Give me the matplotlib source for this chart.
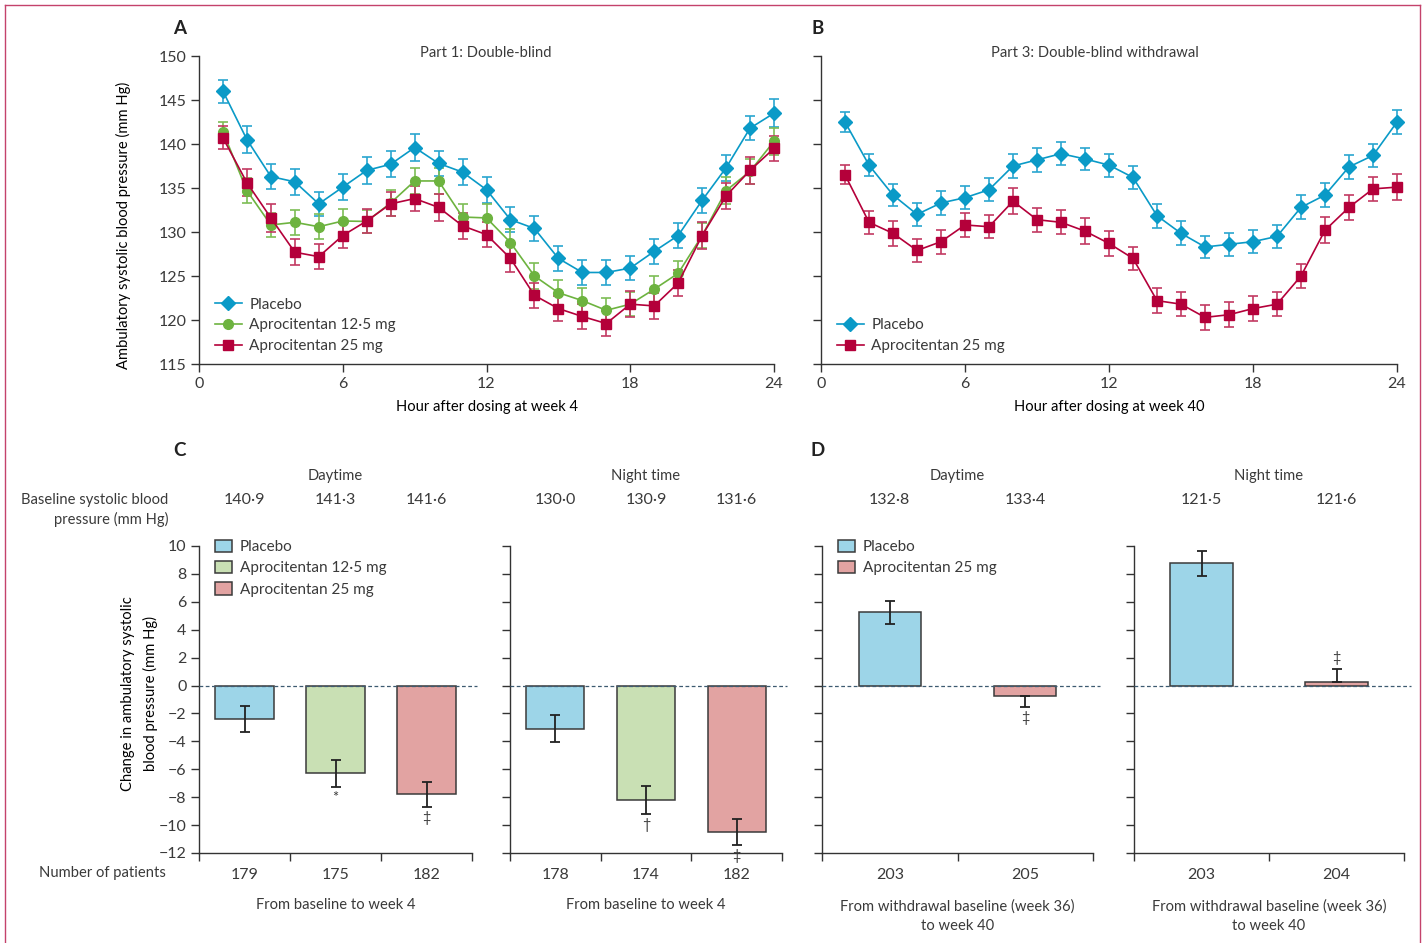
import matplotlib
matplotlib.use('Agg')
import matplotlib.pyplot as plt
import matplotlib.transforms as mtransforms
from matplotlib.patches import Patch
from matplotlib.lines import Line2D

plt.rcParams['font.family'] = ['Lato', 'DejaVu Sans']
TXT = '#3a3a3a'
AX = '#333333'
plt.rcParams['text.color'] = TXT
plt.rcParams['axes.edgecolor'] = AX
plt.rcParams['xtick.color'] = AX
plt.rcParams['ytick.color'] = AX
plt.rcParams['xtick.labelcolor'] = TXT
plt.rcParams['ytick.labelcolor'] = TXT
plt.rcParams['font.size'] = 11.5

FS_WORD = 10.6
FS_NUM = 11.5
FS_LEG = 11.0

# ---------------- data ----------------
hours = list(range(1, 25))

a_placebo = [146.0, 140.5, 136.3, 135.7, 133.2, 135.1, 137.0, 137.7, 139.6, 137.8, 136.8, 134.8,
             131.4, 130.4, 127.0, 125.4, 125.4, 125.9, 127.8, 129.6, 133.6, 137.3, 141.8, 143.5]
a_placebo_se = [1.3, 1.5, 1.45, 1.5, 1.4, 1.5, 1.5, 1.5, 1.5, 1.45, 1.5, 1.5,
                1.45, 1.45, 1.45, 1.45, 1.45, 1.4, 1.45, 1.45, 1.45, 1.45, 1.4, 1.6]
a_apro125 = [141.4, 134.7, 130.8, 131.1, 130.6, 131.25, 131.2, 133.3, 135.8, 135.8, 131.7, 131.6,
             128.8, 125.0, 123.1, 122.2, 121.1, 121.8, 123.5, 125.3, 129.6, 134.7, 136.9, 140.3]
a_apro125_se = [1.1, 1.4, 1.35, 1.45, 1.4, 1.4, 1.35, 1.45, 1.5, 1.5, 1.5, 1.55,
                1.5, 1.5, 1.45, 1.45, 1.4, 1.4, 1.45, 1.4, 1.45, 1.5, 1.45, 1.5]
a_apro25 = [140.7, 135.6, 131.6, 127.7, 127.2, 129.6, 131.25, 133.2, 133.8, 132.8, 130.7, 129.7,
            127.0, 122.8, 121.3, 120.4, 119.6, 121.8, 121.6, 124.2, 129.6, 134.1, 137.0, 139.5]
a_apro25_se = [1.3, 1.55, 1.6, 1.5, 1.45, 1.45, 1.4, 1.4, 1.45, 1.5, 1.45, 1.45,
               1.5, 1.45, 1.45, 1.45, 1.45, 1.45, 1.45, 1.5, 1.5, 1.5, 1.5, 1.45]

b_placebo = [142.5, 137.6, 134.2, 132.0, 133.3, 133.9, 134.8, 137.5, 138.2, 138.9, 138.3, 137.6,
             136.2, 131.85, 129.85, 128.3, 128.6, 128.9, 129.5, 132.8, 134.2, 137.4, 138.7, 142.5]
b_placebo_se = [1.15, 1.25, 1.3, 1.3, 1.35, 1.3, 1.3, 1.35, 1.35, 1.3, 1.3, 1.3,
                1.3, 1.35, 1.35, 1.3, 1.3, 1.3, 1.3, 1.35, 1.35, 1.35, 1.3, 1.35]
b_apro25 = [136.5, 131.1, 129.85, 127.9, 128.9, 130.8, 130.6, 133.5, 131.4, 131.1, 130.1, 128.7,
            127.0, 122.2, 121.8, 120.3, 120.6, 121.3, 121.8, 125.0, 130.2, 132.8, 134.9, 135.1]
b_apro25_se = [1.1, 1.3, 1.4, 1.35, 1.35, 1.35, 1.3, 1.45, 1.35, 1.35, 1.45, 1.45,
               1.35, 1.45, 1.35, 1.4, 1.4, 1.4, 1.4, 1.4, 1.45, 1.4, 1.4, 1.45]

c_groups = ['Placebo', 'Aprocitentan 12·5 mg', 'Aprocitentan 25 mg']
c_day_change = [-2.4, -6.3, -7.8]
c_day_se = [0.93, 0.94, 0.9]
c_day_marks = ['', '*', '‡']
c_day_n = [179, 175, 182]
c_day_base = [140.9, 141.3, 141.6]
c_night_change = [-3.1, -8.2, -10.5]
c_night_se = [0.98, 0.97, 0.95]
c_night_marks = ['', '†', '‡']
c_night_n = [178, 174, 182]
c_night_base = [130.0, 130.9, 131.6]

d_groups = ['Placebo', 'Aprocitentan 25 mg']
d_day_change = [5.25, -0.74]
d_day_se_low = [0.83, 0.8]
d_day_se_high = [0.83, 0.0]
d_day_marks = ['', '‡']
d_day_n = [203, 205]
d_day_base = [132.8, 133.4]
d_night_change = [8.76, 0.26]
d_night_se_low = [0.9, 0.0]
d_night_se_high = [0.9, 0.89]
d_night_marks = ['', '‡']
d_night_n = [203, 204]
d_night_base = [121.5, 121.6]

# ---------------- styling ----------------
C_PLA = '#0A9AC7'
C_125 = '#6DB33F'
C_25 = '#B4003A'
E_PLA = '#2AA6CF'
E_125 = '#7DBD55'
E_25 = '#C23A62'
B_PLA = '#9DD5E8'
B_125 = '#C9E0B4'
B_25 = '#E2A3A2'

W, H = 1426, 943
fig = plt.figure(figsize=(W / 100, H / 100), dpi=100)


def fx(x):
    return x / W


def fy(y):
    return 1 - y / H


def ftext(x, y, s, **kw):
    kw.setdefault('ha', 'center')
    kw.setdefault('va', 'center')
    fig.text(fx(x), fy(y), s, **kw)


def box(l, r, t, b):
    return [fx(l), fy(b), fx(r) - fx(l), fy(t) - fy(b)]


def fmt(v):
    return f"{v:.1f}".replace('.', '·')


def style_line_axes(ax):
    for s in ['top', 'right']:
        ax.spines[s].set_visible(False)
    for s in ['left', 'bottom']:
        ax.spines[s].set_linewidth(1.0)
    ax.set_xlim(0, 24)
    ax.set_ylim(115, 150)
    ax.set_xticks([0, 6, 12, 18, 24])
    ax.set_yticks(range(115, 151, 5))
    ax.tick_params(direction='out', length=6, width=1.0, pad=3, labelsize=FS_NUM)


def series(ax, y, se, color, marker, ms, ecolor):
    ax.errorbar(hours, y, yerr=se, color=color, ecolor=ecolor, elinewidth=1.2,
                capsize=3.6, capthick=1.2, lw=1.2, marker=marker, ms=ms,
                mec=color, mfc=color, clip_on=False, zorder=3)


def line_handle(color, marker, ms, label):
    return Line2D([], [], color=color, lw=1.2, marker=marker, ms=ms, mec=color, mfc=color,
                  label=label)


# ---------------- Panel A ----------------
axA = fig.add_axes(box(199, 774, 56, 364))
style_line_axes(axA)
series(axA, a_placebo, a_placebo_se, C_PLA, 'D', 7.5, E_PLA)
series(axA, a_apro125, a_apro125_se, C_125, 'o', 7, E_125)
series(axA, a_apro25, a_apro25_se, C_25, 's', 7, E_25)
axA.legend(handles=[line_handle(C_PLA, 'D', 7.5, 'Placebo'),
                    line_handle(C_125, 'o', 7, 'Aprocitentan 12·5 mg'),
                    line_handle(C_25, 's', 7, 'Aprocitentan 25 mg')],
           loc='lower left', bbox_to_anchor=(0.012, 0.005), frameon=False, fontsize=FS_LEG,
           handlelength=1.75, handletextpad=0.5, labelspacing=0.45, borderaxespad=0.4,
           borderpad=0.2)
axA.set_xlabel('Hour after dosing at week 4', fontsize=FS_WORD, labelpad=7)
axA.set_ylabel('Ambulatory systolic blood pressure (mm Hg)', fontsize=FS_WORD)
axA.yaxis.set_label_coords(-0.118, 0.45)
ftext(180, 28, 'A', fontsize=13.5, fontweight='bold', color='#222222')
ftext(486, 53, 'Part 1: Double-blind', fontsize=FS_WORD)

# ---------------- Panel B ----------------
axB = fig.add_axes(box(821, 1397, 56, 364))
style_line_axes(axB)
axB.set_yticklabels([])
series(axB, b_placebo, b_placebo_se, C_PLA, 'D', 7.5, E_PLA)
series(axB, b_apro25, b_apro25_se, C_25, 's', 7, E_25)
axB.legend(handles=[line_handle(C_PLA, 'D', 7.5, 'Placebo'),
                    line_handle(C_25, 's', 7, 'Aprocitentan 25 mg')],
           loc='lower left', bbox_to_anchor=(0.012, 0.005), frameon=False, fontsize=FS_LEG,
           handlelength=1.75, handletextpad=0.5, labelspacing=0.45, borderaxespad=0.4,
           borderpad=0.2)
axB.set_xlabel('Hour after dosing at week 40', fontsize=FS_WORD, labelpad=7)
ftext(818, 28, 'B', fontsize=13.5, fontweight='bold', color='#222222')
ftext(1095, 53, 'Part 3: Double-blind withdrawal', fontsize=FS_WORD)


# ---------------- Bar panels ----------------
def bar_panel(l, r, changes, lo, hi, colors, width, marks, ns, bases, show_ylabels, xlabel,
              title, mark_side):
    ax = fig.add_axes(box(l, r, 546, 853))
    n = len(changes)
    centers = [i + 0.5 for i in range(n)]
    ax.set_xlim(0, n)
    ax.set_ylim(-12, 10)
    for s in ['top', 'right']:
        ax.spines[s].set_visible(False)
    for s in ['left', 'bottom']:
        ax.spines[s].set_linewidth(1.0)
    ax.bar(centers, changes, width=width, color=colors, edgecolor='#3a3a3a', linewidth=1.1,
           zorder=2)
    ax.errorbar(centers, changes, yerr=[lo, hi], fmt='none', ecolor='#222222',
                elinewidth=1.3, capsize=3.6, capthick=1.3, zorder=3)
    ax.plot([0, n + 0.05], [0, 0], ls=(0, (3, 2)), color='#3d5a70', lw=0.9, zorder=4,
            clip_on=False)
    ax.set_yticks(range(-12, 11, 2))
    if not show_ylabels:
        ax.set_yticklabels([])
    ax.set_xticks(range(n + 1))
    ax.set_xticklabels([])
    ax.set_xticks(centers, [str(v) for v in ns], minor=True)
    ax.tick_params(axis='x', which='minor', length=0, pad=11, labelsize=FS_NUM)
    ax.tick_params(which='major', direction='out', length=6, width=1.0, labelsize=FS_NUM, pad=3)
    for c, v, l_, h_, m, side in zip(centers, changes, lo, hi, marks, mark_side):
        if not m:
            continue
        if side == 'below':
            ax.annotate(m, (c, v - l_), xytext=(0, -3), textcoords='offset points',
                        ha='center', va='top', fontsize=10.5, annotation_clip=False)
        else:
            ax.annotate(m, (c, v + h_), xytext=(0, 3), textcoords='offset points',
                        ha='center', va='bottom', fontsize=10.5, annotation_clip=False)
    tr = mtransforms.blended_transform_factory(ax.transData, fig.transFigure)
    for c, b in zip(centers, bases):
        ax.text(c, fy(500), fmt(b), transform=tr, ha='center', va='center', fontsize=FS_NUM)
    mid = (l + r) / 2
    ftext(mid, 476, title, fontsize=FS_WORD)
    ftext(mid, 905 if '\n' not in xlabel else 916, xlabel, fontsize=FS_WORD, linespacing=1.45)
    return ax


bar_leg_kw = dict(loc='upper left', bbox_to_anchor=(0.03, 1.045), frameon=False,
                  fontsize=FS_LEG, handlelength=1.15, handleheight=0.85, handletextpad=0.5,
                  labelspacing=0.45, borderaxespad=0.3, borderpad=0.2)

axC1 = bar_panel(199, 472, c_day_change, c_day_se, c_day_se, [B_PLA, B_125, B_25], 0.64,
                 c_day_marks, c_day_n, c_day_base, True, 'From baseline to week 4', 'Daytime',
                 ['below'] * 3)
axC1.legend(handles=[Patch(facecolor=col, edgecolor='#3a3a3a', lw=1.1, label=g)
                     for col, g in zip([B_PLA, B_125, B_25], c_groups)], **bar_leg_kw)
axC1.set_ylabel('Change in ambulatory systolic\nblood pressure (mm Hg)', fontsize=FS_WORD,
                linespacing=1.7)
axC1.yaxis.set_label_coords(-0.15, 0.52)
axC2 = bar_panel(510, 782, c_night_change, c_night_se, c_night_se, [B_PLA, B_125, B_25], 0.64,
                 c_night_marks, c_night_n, c_night_base, False, 'From baseline to week 4',
                 'Night time', ['below'] * 3)
axD1 = bar_panel(822, 1093, d_day_change, d_day_se_low, d_day_se_high, [B_PLA, B_25], 0.46,
                 d_day_marks, d_day_n, d_day_base, False,
                 'From withdrawal baseline (week 36)\nto week 40', 'Daytime', ['below'] * 2)
axD1.legend(handles=[Patch(facecolor=col, edgecolor='#3a3a3a', lw=1.1, label=g)
                     for col, g in zip([B_PLA, B_25], d_groups)], **bar_leg_kw)
axD2 = bar_panel(1134, 1404, d_night_change, d_night_se_low, d_night_se_high, [B_PLA, B_25],
                 0.46, d_night_marks, d_night_n, d_night_base, False,
                 'From withdrawal baseline (week 36)\nto week 40', 'Night time', ['above'] * 2)

ftext(180, 450, 'C', fontsize=13.5, fontweight='bold', color='#222222')
ftext(818, 450, 'D', fontsize=13.5, fontweight='bold', color='#222222')
ftext(168, 510, 'Baseline systolic blood\npressure (mm Hg)', ha='right', fontsize=FS_WORD,
      linespacing=1.45)
ftext(166, 873, 'Number of patients', ha='right', fontsize=FS_WORD)

# figure frame
BC = '#C4426B'
for xs, ys in [([5, 5], [5, 950]), ([5, 1420], [5, 5]), ([1420, 1420], [5, 950])]:
    fig.add_artist(Line2D([fx(v) for v in xs], [fy(v) for v in ys], color=BC, lw=1.0,
                          transform=fig.transFigure))

fig.savefig('out.png', dpi=100)
